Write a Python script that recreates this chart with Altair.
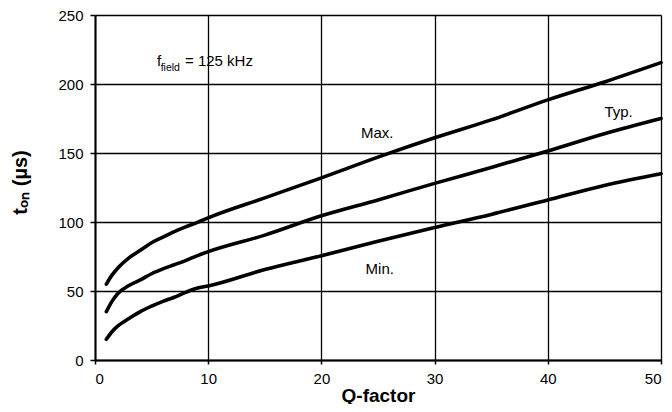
import altair as alt
import pandas as pd

# Q-factor sample points and t_on curves (µs)
q = [1, 1.5, 2, 3, 4, 5, 6, 7, 8, 9, 10, 15, 20, 25, 30, 35, 40, 45, 50]
t_max = [55, 61.5, 66.5, 74, 79.5, 85, 89, 93, 96.5, 99.5, 103, 117.5, 132, 147, 161, 174, 188.5, 201.5, 215.5]
t_typ = [35, 42.5, 48, 54, 58, 62.5, 66, 69, 72, 75.5, 78.5, 90.5, 104.5, 116, 128, 139.5, 151.5, 164, 175]
t_min = [15, 20.5, 24.5, 30, 35, 39, 42.5, 45.5, 49, 52, 53.6, 65.5, 75.5, 86, 96, 105.5, 116, 126.5, 135]

# curve labels
label_text = ["Max.", "Typ.", "Min."]
label_q = [23.5, 45.0, 23.9]
label_t = [164.7, 180.0, 66.2]

# frequency annotation: main text and subscript
ann_main_text = ["f", "= 125 kHz"]
ann_main_q = [5.48, 7.95]
ann_main_t = [216.7, 216.7]
ann_sub_text = ["field"]
ann_sub_q = [5.8]
ann_sub_t = [211.8]

x_ticks = [0, 10, 20, 30, 40, 50]
y_ticks = [0, 50, 100, 150, 200, 250]

FONT = "Liberation Sans"

rows = []
for name, vals in (("Max.", t_max), ("Typ.", t_typ), ("Min.", t_min)):
    for qq, v in zip(q, vals):
        rows.append({"series": name, "q": qq, "t": v})
df = pd.DataFrame(rows)

x_scale = alt.Scale(domain=[0, 50], nice=False, zero=False)
y_scale = alt.Scale(domain=[0, 250], nice=False)

lines = alt.Chart(df).mark_line(
    color="black", strokeWidth=3.6, strokeCap="round", strokeJoin="round", interpolate="monotone"
).encode(
    x=alt.X("q:Q", scale=x_scale,
            axis=alt.Axis(values=x_ticks, title="Q-factor", tickSize=4, labelPadding=7,
                          titlePadding=0, titleFontSize=19, titleFontWeight="bold",
                          labelFontSize=15, grid=True)),
    y=alt.Y("t:Q", scale=y_scale,
            axis=alt.Axis(values=y_ticks, title="tₒₙ (µs)", tickSize=5, labelPadding=7,
                          titlePadding=27, titleFontSize=20, titleFontWeight="bold",
                          titleY=167, labelFontSize=15, grid=True)),
    detail="series:N",
)

labels_df = pd.DataFrame({"text": label_text, "q": label_q, "t": label_t})
labels = alt.Chart(labels_df).mark_text(
    align="left", baseline="middle", fontSize=15, font=FONT, color="black"
).encode(x=alt.X("q:Q", scale=x_scale), y=alt.Y("t:Q", scale=y_scale), text="text:N")

ann_main_df = pd.DataFrame({"text": ann_main_text, "q": ann_main_q, "t": ann_main_t})
ann_main = alt.Chart(ann_main_df).mark_text(
    align="left", baseline="middle", fontSize=15, font=FONT, color="black"
).encode(x=alt.X("q:Q", scale=x_scale), y=alt.Y("t:Q", scale=y_scale), text="text:N")

ann_sub_df = pd.DataFrame({"text": ann_sub_text, "q": ann_sub_q, "t": ann_sub_t})
ann_sub = alt.Chart(ann_sub_df).mark_text(
    align="left", baseline="middle", fontSize=10.5, font=FONT, color="black"
).encode(x=alt.X("q:Q", scale=x_scale), y=alt.Y("t:Q", scale=y_scale), text="text:N")

chart = alt.layer(lines, labels, ann_main, ann_sub).properties(
    width=566, height=345,
    autosize=alt.AutoSizeParams(type="none"),
    padding={"left": 87, "top": 7, "right": 3, "bottom": 44},
    background="white",
).configure_view(stroke=None).configure_axis(
    domainColor="black", domainWidth=2, tickColor="black", tickWidth=1.5,
    gridColor="black", gridWidth=1.3, gridOpacity=1,
    labelColor="black", titleColor="black", labelFont=FONT, titleFont=FONT,
)

chart.save("out.html", embed_options={"renderer": "svg", "actions": False})
